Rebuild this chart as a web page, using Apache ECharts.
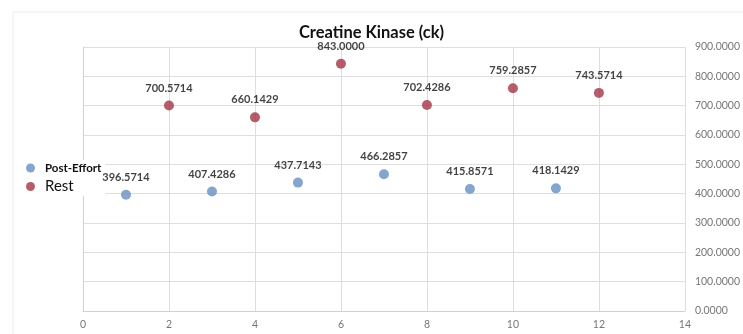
<!DOCTYPE html>
<html>
<head>
<meta charset="utf-8">
<script src="https://cdn.jsdelivr.net/npm/echarts@6/dist/echarts.min.js"></script>
<style>
  html, body { margin: 0; padding: 0; background: #fff; }
  #chart { width: 743px; height: 334px; }
</style>
</head>
<body>
<div id="chart"></div>
<script>
// Creatine kinase readings, alternating post-effort and rest sessions
const postEffortX = [1, 3, 5, 7, 9, 11];
const postEffortY = [396.5714, 407.4286, 437.7143, 466.2857, 415.8571, 418.1429];
const restX = [2, 4, 6, 8, 10, 12];
const restY = [700.5714, 660.1429, 843.0000, 702.4286, 759.2857, 743.5714];
const seriesNames = ['Post-Effort', 'Rest'];
const chartTitle = 'Creatine Kinase (ck)';

const FONT = 'Lato, "Open Sans", sans-serif';
const pairs = (xs, ys) => xs.map((x, i) => [x, ys[i]]);

const chart = echarts.init(document.getElementById('chart'), null, { renderer: 'canvas' });

const pointLabel = {
  show: true,
  position: 'top',
  distance: 7,
  color: '#111',
  fontFamily: FONT,
  fontWeight: 'bold',
  fontSize: 11,
  formatter: p => p.value[1].toFixed(4)
};

// faint outer frame of the chart object
const frameColor = '#ececec';
const frame = [
  { type: 'line', shape: { x1: 13, y1: 12, x2: 743, y2: 12 }, style: { stroke: frameColor, lineWidth: 1 }, silent: true },
  { type: 'line', shape: { x1: 13, y1: 12, x2: 13, y2: 334 }, style: { stroke: frameColor, lineWidth: 1 }, silent: true }
];

chart.setOption({
  animation: false,
  backgroundColor: '#fff',
  graphic: frame,
  title: {
    text: chartTitle,
    left: 'center',
    top: 19,
    textStyle: { fontFamily: FONT, fontWeight: 'bold', fontSize: 16.5, color: '#111' }
  },
  legend: {
    orient: 'vertical',
    left: 24,
    top: 160,
    z: 1,
    itemWidth: 9,
    itemHeight: 9,
    itemGap: 5,
    icon: 'circle',
    backgroundColor: '#fff',
    padding: [2, 4, 2, 2],
    data: seriesNames,
    formatter: name => name === 'Rest' ? '{r|' + name + '}' : '{p|' + name + '}',
    textStyle: {
      fontFamily: FONT,
      color: '#111',
      rich: {
        p: { fontFamily: FONT, fontSize: 11.5, fontWeight: 'bold', color: '#111', padding: [0, 0, 0, 5] },
        r: { fontFamily: FONT, fontSize: 15, color: '#111', padding: [0, 0, 0, 5] }
      }
    }
  },
  grid: { left: 83, right: 55, top: 47, bottom: 23, containLabel: false },
  xAxis: {
    type: 'value',
    min: 0,
    max: 14,
    interval: 2,
    axisLine: { show: true, lineStyle: { color: '#d0d0d0' } },
    axisTick: { show: false },
    axisLabel: { color: '#777', fontFamily: FONT, fontSize: 10.5, margin: 8 },
    splitLine: { show: true, lineStyle: { color: '#dedede' } }
  },
  yAxis: {
    type: 'value',
    position: 'right',
    min: 0,
    max: 900,
    interval: 100,
    axisLine: { show: true, lineStyle: { color: '#d0d0d0' } },
    axisTick: { show: false },
    axisLabel: {
      color: '#777', fontFamily: FONT, fontSize: 10.5, margin: 10,
      formatter: v => v.toFixed(4)
    },
    splitLine: { show: true, lineStyle: { color: '#dedede' } }
  },
  series: [
    {
      name: seriesNames[0],
      type: 'scatter',
      z: 3,
      symbolSize: 10,
      itemStyle: { color: '#6590c2' },
      label: pointLabel,
      data: pairs(postEffortX, postEffortY)
    },
    {
      name: seriesNames[1],
      type: 'scatter',
      z: 3,
      symbolSize: 10,
      itemStyle: { color: '#a33545' },
      label: pointLabel,
      data: pairs(restX, restY)
    }
  ]
});
</script>
</body>
</html>
